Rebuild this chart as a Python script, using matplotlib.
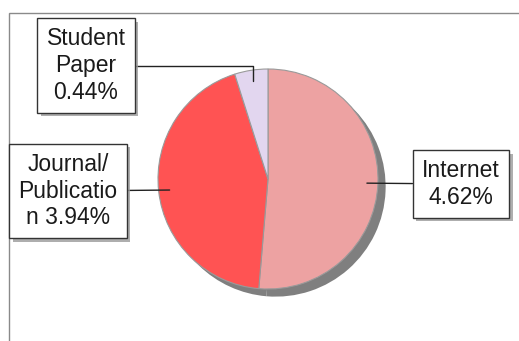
import numpy as np
import matplotlib
matplotlib.use("Agg")
import matplotlib.pyplot as plt
import matplotlib.patheffects as pe
from matplotlib.patches import Rectangle

plt.rcParams["font.family"] = ["Liberation Sans", "DejaVu Sans"]

# data: share of sources, in %
names = ["Internet\n", "Journal/\nPublicatio\nn ", "Student\nPaper\n"]
values = [4.62, 3.94, 0.44]
colors = ["#EDA2A2", "#FF5353", "#E2D6EF"]

# label box centres in pixels (y from bottom)
box_xy = [(461, 157), (68, 150), (86, 275.5)]
CENTER, R = (268, 162), 110

fig = plt.figure(figsize=(5.19, 3.41), dpi=100)
ax = fig.add_axes([0, 0, 1, 1])

wedges, _ = ax.pie(values, colors=colors, startangle=90, counterclock=False,
                   center=CENTER, radius=R, frame=True,
                   wedgeprops=dict(edgecolor="#9a9a9a", linewidth=0.8),
                   shadow=dict(ox=5.5, oy=-5.5, facecolor="#7f7f7f",
                               edgecolor="none", alpha=1))

for w, name, v, (bx, by) in zip(wedges, names, values, box_xy):
    mid = np.deg2rad((w.theta1 + w.theta2) / 2)
    px = CENTER[0] + 0.9 * R * np.cos(mid)
    py = CENTER[1] + 0.9 * R * np.sin(mid)
    # the small slice near the top gets an elbow leader
    cs = "angle,angleA=0,angleB=90,rad=0" if py > 200 else "arc3"
    t = ax.annotate(f"{name}{v:.2f}%", xy=(px, py), xytext=(bx, by),
                    ha="center", va="center", multialignment="center",
                    fontsize=16.5, color="#1a1a1a", linespacing=1.2,
                    bbox=dict(boxstyle="square,pad=0.4", fc="white",
                              ec="#333333", lw=1),
                    arrowprops=dict(arrowstyle="-", color="#222222", lw=1,
                                    connectionstyle=cs, shrinkA=0, shrinkB=0))
    t.get_bbox_patch().set_path_effects(
        [pe.SimplePatchShadow(offset=(2.5, -2.5), shadow_rgbFace="#9a9a9a", alpha=0.8),
         pe.Normal()])

# chart frame (only top and left edges visible)
ax.add_patch(Rectangle((9, -20), 600, 348, fill=False, ec="#8a8a8a", lw=1))

ax.set_xlim(0, 519)
ax.set_ylim(0, 341)
ax.set_aspect("equal")
ax.axis("off")
fig.savefig("out.png", dpi=100)
